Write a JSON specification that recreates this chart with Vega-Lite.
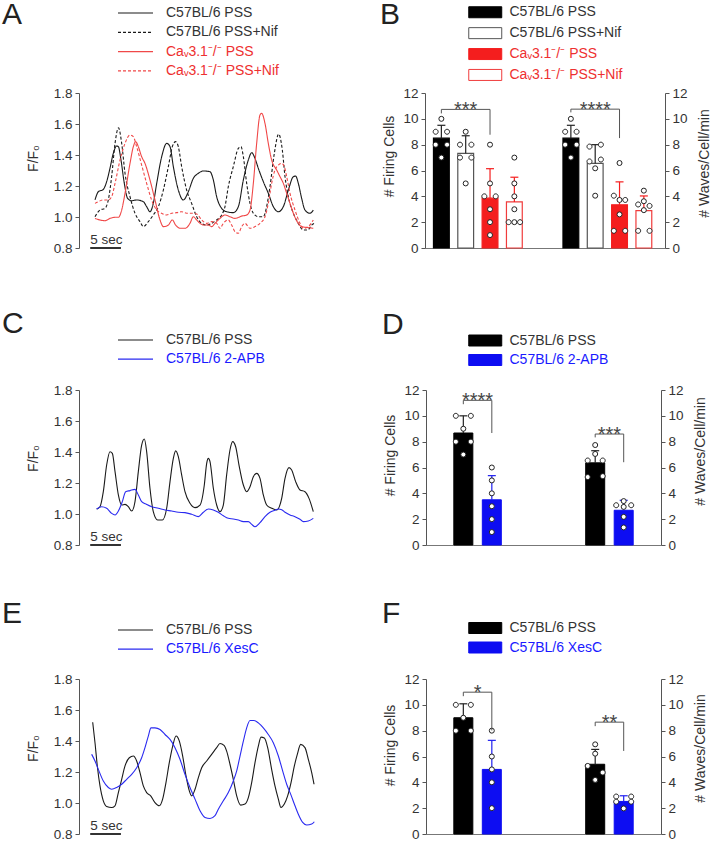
{
"$schema":"https://vega.github.io/schema/vega-lite/v6.json",
"background":"white",
"padding":{"left":2,"top":0,"right":0,"bottom":0},
"config":{
 "font":"Liberation Sans",
 "view":{"stroke":null},
 "axis":{"grid":false,"labelOverlap":false,"domainColor":"#555555","tickColor":"#555555","tickSize":4,"labelPadding":3,"labelFont":"Liberation Sans","labelFontSize":13.5,"labelColor":"#333333","titleFont":"Liberation Sans","titleFontSize":14,"titleFontWeight":"normal","titleColor":"#333333"},
 "legend":{"labelFont":"Liberation Sans","labelFontSize":14,"labelColor":"#333333","padding":0,"labelLimit":400,"symbolOpacity":1},
 "title":{"font":"Liberation Sans","fontSize":30,"fontWeight":"normal","color":"#222222","anchor":"start","frame":"group","offset":0}
},
"datasets":{
"trA":[
{"s":"C57BL/6 PSS","t":2.5,"v":1.11},{"s":"C57BL/6 PSS","t":3.02,"v":1.163},{"s":"C57BL/6 PSS","t":3.8,"v":1.178},{"s":"C57BL/6 PSS","t":4.32,"v":1.228},{"s":"C57BL/6 PSS","t":4.84,"v":1.314},{"s":"C57BL/6 PSS","t":5.36,"v":1.411},{"s":"C57BL/6 PSS","t":5.89,"v":1.458},{"s":"C57BL/6 PSS","t":6.15,"v":1.454},{"s":"C57BL/6 PSS","t":6.56,"v":1.368},{"s":"C57BL/6 PSS","t":7.08,"v":1.217},{"s":"C57BL/6 PSS","t":7.6,"v":1.12},{"s":"C57BL/6 PSS","t":8.23,"v":1.105},{"s":"C57BL/6 PSS","t":9.01,"v":1.11},{"s":"C57BL/6 PSS","t":10.05,"v":1.099},{"s":"C57BL/6 PSS","t":10.57,"v":1.067},{"s":"C57BL/6 PSS","t":11.09,"v":1.034},{"s":"C57BL/6 PSS","t":11.61,"v":1.088},{"s":"C57BL/6 PSS","t":12.14,"v":1.217},{"s":"C57BL/6 PSS","t":12.92,"v":1.389},{"s":"C57BL/6 PSS","t":13.7,"v":1.475},{"s":"C57BL/6 PSS","t":14.22,"v":1.454},{"s":"C57BL/6 PSS","t":14.74,"v":1.325},{"s":"C57BL/6 PSS","t":15.52,"v":1.174},{"s":"C57BL/6 PSS","t":16.3,"v":1.11},{"s":"C57BL/6 PSS","t":17.08,"v":1.163},{"s":"C57BL/6 PSS","t":17.86,"v":1.249},{"s":"C57BL/6 PSS","t":18.65,"v":1.282},{"s":"C57BL/6 PSS","t":19.43,"v":1.297},{"s":"C57BL/6 PSS","t":20.47,"v":1.292},{"s":"C57BL/6 PSS","t":20.99,"v":1.239},{"s":"C57BL/6 PSS","t":21.51,"v":1.131},{"s":"C57BL/6 PSS","t":22.29,"v":1.056},{"s":"C57BL/6 PSS","t":23.07,"v":1.034},{"s":"C57BL/6 PSS","t":24.11,"v":1.028},{"s":"C57BL/6 PSS","t":24.9,"v":1.067},{"s":"C57BL/6 PSS","t":25.68,"v":1.239},{"s":"C57BL/6 PSS","t":26.46,"v":1.368},{"s":"C57BL/6 PSS","t":26.98,"v":1.415},{"s":"C57BL/6 PSS","t":27.5,"v":1.378},{"s":"C57BL/6 PSS","t":28.02,"v":1.314},{"s":"C57BL/6 PSS","t":28.8,"v":1.228},{"s":"C57BL/6 PSS","t":29.58,"v":1.153},{"s":"C57BL/6 PSS","t":30.36,"v":1.067},{"s":"C57BL/6 PSS","t":31.15,"v":1.034},{"s":"C57BL/6 PSS","t":31.93,"v":1.067},{"s":"C57BL/6 PSS","t":32.71,"v":1.174},{"s":"C57BL/6 PSS","t":33.49,"v":1.26},{"s":"C57BL/6 PSS","t":33.85,"v":1.264},{"s":"C57BL/6 PSS","t":34.27,"v":1.217},{"s":"C57BL/6 PSS","t":34.79,"v":1.12},{"s":"C57BL/6 PSS","t":35.31,"v":1.045},{"s":"C57BL/6 PSS","t":36.09,"v":1.024},{"s":"C57BL/6 PSS","t":36.61,"v":1.045},
{"s":"C57BL/6 PSS+Nif","t":2.5,"v":1.002},{"s":"C57BL/6 PSS+Nif","t":3.28,"v":1.045},{"s":"C57BL/6 PSS+Nif","t":4.06,"v":1.056},{"s":"C57BL/6 PSS+Nif","t":4.58,"v":1.11},{"s":"C57BL/6 PSS+Nif","t":5.1,"v":1.26},{"s":"C57BL/6 PSS+Nif","t":5.63,"v":1.475},{"s":"C57BL/6 PSS+Nif","t":6.17,"v":1.575},{"s":"C57BL/6 PSS+Nif","t":6.67,"v":1.475},{"s":"C57BL/6 PSS+Nif","t":7.19,"v":1.282},{"s":"C57BL/6 PSS+Nif","t":7.97,"v":1.131},{"s":"C57BL/6 PSS+Nif","t":8.75,"v":1.024},{"s":"C57BL/6 PSS+Nif","t":9.53,"v":0.97},{"s":"C57BL/6 PSS+Nif","t":10.05,"v":0.938},{"s":"C57BL/6 PSS+Nif","t":10.83,"v":0.97},{"s":"C57BL/6 PSS+Nif","t":11.61,"v":1.013},{"s":"C57BL/6 PSS+Nif","t":12.4,"v":1.067},{"s":"C57BL/6 PSS+Nif","t":13.18,"v":1.174},{"s":"C57BL/6 PSS+Nif","t":13.96,"v":1.325},{"s":"C57BL/6 PSS+Nif","t":14.58,"v":1.454},{"s":"C57BL/6 PSS+Nif","t":15.1,"v":1.486},{"s":"C57BL/6 PSS+Nif","t":15.52,"v":1.454},{"s":"C57BL/6 PSS+Nif","t":16.04,"v":1.325},{"s":"C57BL/6 PSS+Nif","t":16.82,"v":1.174},{"s":"C57BL/6 PSS+Nif","t":17.6,"v":1.088},{"s":"C57BL/6 PSS+Nif","t":18.39,"v":1.002},{"s":"C57BL/6 PSS+Nif","t":19.17,"v":0.959},{"s":"C57BL/6 PSS+Nif","t":19.95,"v":0.948},{"s":"C57BL/6 PSS+Nif","t":20.73,"v":0.959},{"s":"C57BL/6 PSS+Nif","t":21.51,"v":0.981},{"s":"C57BL/6 PSS+Nif","t":22.29,"v":1.013},{"s":"C57BL/6 PSS+Nif","t":22.81,"v":1.067},{"s":"C57BL/6 PSS+Nif","t":23.33,"v":1.196},{"s":"C57BL/6 PSS+Nif","t":24.11,"v":1.325},{"s":"C57BL/6 PSS+Nif","t":24.9,"v":1.443},{"s":"C57BL/6 PSS+Nif","t":25.31,"v":1.454},{"s":"C57BL/6 PSS+Nif","t":25.68,"v":1.389},{"s":"C57BL/6 PSS+Nif","t":26.2,"v":1.217},{"s":"C57BL/6 PSS+Nif","t":26.72,"v":1.088},{"s":"C57BL/6 PSS+Nif","t":27.24,"v":1.024},{"s":"C57BL/6 PSS+Nif","t":28.02,"v":1.002},{"s":"C57BL/6 PSS+Nif","t":28.8,"v":1.002},{"s":"C57BL/6 PSS+Nif","t":29.32,"v":1.067},{"s":"C57BL/6 PSS+Nif","t":29.84,"v":1.196},{"s":"C57BL/6 PSS+Nif","t":30.52,"v":1.411},{"s":"C57BL/6 PSS+Nif","t":31.2,"v":1.535},{"s":"C57BL/6 PSS+Nif","t":31.77,"v":1.432},{"s":"C57BL/6 PSS+Nif","t":32.19,"v":1.26},{"s":"C57BL/6 PSS+Nif","t":32.71,"v":1.131},{"s":"C57BL/6 PSS+Nif","t":33.49,"v":1.024},{"s":"C57BL/6 PSS+Nif","t":34.27,"v":0.959},{"s":"C57BL/6 PSS+Nif","t":35.05,"v":0.916},{"s":"C57BL/6 PSS+Nif","t":35.73,"v":0.916},{"s":"C57BL/6 PSS+Nif","t":36.35,"v":0.948},{"s":"C57BL/6 PSS+Nif","t":36.77,"v":0.959},
{"s":"Caᵥ3.1⁻/⁻ PSS","t":2.5,"v":0.991},{"s":"Caᵥ3.1⁻/⁻ PSS","t":3.28,"v":0.981},{"s":"Caᵥ3.1⁻/⁻ PSS","t":4.06,"v":0.976},{"s":"Caᵥ3.1⁻/⁻ PSS","t":4.84,"v":0.991},{"s":"Caᵥ3.1⁻/⁻ PSS","t":5.63,"v":0.998},{"s":"Caᵥ3.1⁻/⁻ PSS","t":6.15,"v":0.998},{"s":"Caᵥ3.1⁻/⁻ PSS","t":6.67,"v":1.045},{"s":"Caᵥ3.1⁻/⁻ PSS","t":7.19,"v":1.153},{"s":"Caᵥ3.1⁻/⁻ PSS","t":7.97,"v":1.346},{"s":"Caᵥ3.1⁻/⁻ PSS","t":8.49,"v":1.454},{"s":"Caᵥ3.1⁻/⁻ PSS","t":8.85,"v":1.486},{"s":"Caᵥ3.1⁻/⁻ PSS","t":9.27,"v":1.454},{"s":"Caᵥ3.1⁻/⁻ PSS","t":9.79,"v":1.389},{"s":"Caᵥ3.1⁻/⁻ PSS","t":10.31,"v":1.346},{"s":"Caᵥ3.1⁻/⁻ PSS","t":11.09,"v":1.239},{"s":"Caᵥ3.1⁻/⁻ PSS","t":11.87,"v":1.11},{"s":"Caᵥ3.1⁻/⁻ PSS","t":12.66,"v":0.981},{"s":"Caᵥ3.1⁻/⁻ PSS","t":13.18,"v":0.938},{"s":"Caᵥ3.1⁻/⁻ PSS","t":13.96,"v":0.948},{"s":"Caᵥ3.1⁻/⁻ PSS","t":14.58,"v":0.981},{"s":"Caᵥ3.1⁻/⁻ PSS","t":15.1,"v":0.948},{"s":"Caᵥ3.1⁻/⁻ PSS","t":15.78,"v":0.927},{"s":"Caᵥ3.1⁻/⁻ PSS","t":16.56,"v":0.927},{"s":"Caᵥ3.1⁻/⁻ PSS","t":17.34,"v":0.959},{"s":"Caᵥ3.1⁻/⁻ PSS","t":17.86,"v":1.002},{"s":"Caᵥ3.1⁻/⁻ PSS","t":18.39,"v":0.981},{"s":"Caᵥ3.1⁻/⁻ PSS","t":18.91,"v":0.959},{"s":"Caᵥ3.1⁻/⁻ PSS","t":19.43,"v":0.948},{"s":"Caᵥ3.1⁻/⁻ PSS","t":20.21,"v":0.948},{"s":"Caᵥ3.1⁻/⁻ PSS","t":20.73,"v":0.938},{"s":"Caᵥ3.1⁻/⁻ PSS","t":21.25,"v":0.959},{"s":"Caᵥ3.1⁻/⁻ PSS","t":22.03,"v":0.991},{"s":"Caᵥ3.1⁻/⁻ PSS","t":22.81,"v":1.013},{"s":"Caᵥ3.1⁻/⁻ PSS","t":23.59,"v":1.002},{"s":"Caᵥ3.1⁻/⁻ PSS","t":24.38,"v":0.991},{"s":"Caᵥ3.1⁻/⁻ PSS","t":25.42,"v":1.006},{"s":"Caᵥ3.1⁻/⁻ PSS","t":26.2,"v":1.013},{"s":"Caᵥ3.1⁻/⁻ PSS","t":26.72,"v":1.045},{"s":"Caᵥ3.1⁻/⁻ PSS","t":27.24,"v":1.217},{"s":"Caᵥ3.1⁻/⁻ PSS","t":27.76,"v":1.475},{"s":"Caᵥ3.1⁻/⁻ PSS","t":28.28,"v":1.658},{"s":"Caᵥ3.1⁻/⁻ PSS","t":28.54,"v":1.669},{"s":"Caᵥ3.1⁻/⁻ PSS","t":29.06,"v":1.604},{"s":"Caᵥ3.1⁻/⁻ PSS","t":29.58,"v":1.475},{"s":"Caᵥ3.1⁻/⁻ PSS","t":30.1,"v":1.368},{"s":"Caᵥ3.1⁻/⁻ PSS","t":30.89,"v":1.303},{"s":"Caᵥ3.1⁻/⁻ PSS","t":31.41,"v":1.26},{"s":"Caᵥ3.1⁻/⁻ PSS","t":31.93,"v":1.217},{"s":"Caᵥ3.1⁻/⁻ PSS","t":32.45,"v":1.153},{"s":"Caᵥ3.1⁻/⁻ PSS","t":32.97,"v":1.088},{"s":"Caᵥ3.1⁻/⁻ PSS","t":33.49,"v":1.024},{"s":"Caᵥ3.1⁻/⁻ PSS","t":34.27,"v":0.959},{"s":"Caᵥ3.1⁻/⁻ PSS","t":34.79,"v":0.938},{"s":"Caᵥ3.1⁻/⁻ PSS","t":35.57,"v":0.933},{"s":"Caᵥ3.1⁻/⁻ PSS","t":36.61,"v":0.927},
{"s":"Caᵥ3.1⁻/⁻ PSS+Nif","t":2.5,"v":1.088},{"s":"Caᵥ3.1⁻/⁻ PSS+Nif","t":3.02,"v":1.099},{"s":"Caᵥ3.1⁻/⁻ PSS+Nif","t":3.8,"v":1.11},{"s":"Caᵥ3.1⁻/⁻ PSS+Nif","t":4.58,"v":1.11},{"s":"Caᵥ3.1⁻/⁻ PSS+Nif","t":5.1,"v":1.131},{"s":"Caᵥ3.1⁻/⁻ PSS+Nif","t":5.63,"v":1.217},{"s":"Caᵥ3.1⁻/⁻ PSS+Nif","t":6.41,"v":1.368},{"s":"Caᵥ3.1⁻/⁻ PSS+Nif","t":7.19,"v":1.475},{"s":"Caᵥ3.1⁻/⁻ PSS+Nif","t":7.97,"v":1.529},{"s":"Caᵥ3.1⁻/⁻ PSS+Nif","t":8.49,"v":1.518},{"s":"Caᵥ3.1⁻/⁻ PSS+Nif","t":9.01,"v":1.454},{"s":"Caᵥ3.1⁻/⁻ PSS+Nif","t":9.79,"v":1.335},{"s":"Caᵥ3.1⁻/⁻ PSS+Nif","t":10.57,"v":1.217},{"s":"Caᵥ3.1⁻/⁻ PSS+Nif","t":11.35,"v":1.11},{"s":"Caᵥ3.1⁻/⁻ PSS+Nif","t":12.14,"v":1.045},{"s":"Caᵥ3.1⁻/⁻ PSS+Nif","t":12.92,"v":1.024},{"s":"Caᵥ3.1⁻/⁻ PSS+Nif","t":13.7,"v":1.013},{"s":"Caᵥ3.1⁻/⁻ PSS+Nif","t":14.48,"v":1.024},{"s":"Caᵥ3.1⁻/⁻ PSS+Nif","t":15.26,"v":1.028},{"s":"Caᵥ3.1⁻/⁻ PSS+Nif","t":16.04,"v":1.034},{"s":"Caᵥ3.1⁻/⁻ PSS+Nif","t":16.82,"v":1.024},{"s":"Caᵥ3.1⁻/⁻ PSS+Nif","t":17.6,"v":1.024},{"s":"Caᵥ3.1⁻/⁻ PSS+Nif","t":18.39,"v":1.019},{"s":"Caᵥ3.1⁻/⁻ PSS+Nif","t":19.17,"v":0.981},{"s":"Caᵥ3.1⁻/⁻ PSS+Nif","t":19.95,"v":0.959},{"s":"Caᵥ3.1⁻/⁻ PSS+Nif","t":20.73,"v":0.97},{"s":"Caᵥ3.1⁻/⁻ PSS+Nif","t":21.51,"v":0.959},{"s":"Caᵥ3.1⁻/⁻ PSS+Nif","t":22.03,"v":0.927},{"s":"Caᵥ3.1⁻/⁻ PSS+Nif","t":22.55,"v":0.959},{"s":"Caᵥ3.1⁻/⁻ PSS+Nif","t":23.33,"v":0.981},{"s":"Caᵥ3.1⁻/⁻ PSS+Nif","t":23.85,"v":0.948},{"s":"Caᵥ3.1⁻/⁻ PSS+Nif","t":24.38,"v":0.905},{"s":"Caᵥ3.1⁻/⁻ PSS+Nif","t":24.9,"v":0.895},{"s":"Caᵥ3.1⁻/⁻ PSS+Nif","t":25.42,"v":0.938},{"s":"Caᵥ3.1⁻/⁻ PSS+Nif","t":25.94,"v":0.959},{"s":"Caᵥ3.1⁻/⁻ PSS+Nif","t":26.72,"v":0.927},{"s":"Caᵥ3.1⁻/⁻ PSS+Nif","t":27.5,"v":0.938},{"s":"Caᵥ3.1⁻/⁻ PSS+Nif","t":28.28,"v":0.959},{"s":"Caᵥ3.1⁻/⁻ PSS+Nif","t":29.06,"v":1.002},{"s":"Caᵥ3.1⁻/⁻ PSS+Nif","t":29.58,"v":1.088},{"s":"Caᵥ3.1⁻/⁻ PSS+Nif","t":30.1,"v":1.217},{"s":"Caᵥ3.1⁻/⁻ PSS+Nif","t":30.62,"v":1.303},{"s":"Caᵥ3.1⁻/⁻ PSS+Nif","t":31.15,"v":1.335},{"s":"Caᵥ3.1⁻/⁻ PSS+Nif","t":31.67,"v":1.346},{"s":"Caᵥ3.1⁻/⁻ PSS+Nif","t":32.08,"v":1.325},{"s":"Caᵥ3.1⁻/⁻ PSS+Nif","t":32.45,"v":1.26},{"s":"Caᵥ3.1⁻/⁻ PSS+Nif","t":32.97,"v":1.153},{"s":"Caᵥ3.1⁻/⁻ PSS+Nif","t":33.75,"v":1.045},{"s":"Caᵥ3.1⁻/⁻ PSS+Nif","t":34.53,"v":0.959},{"s":"Caᵥ3.1⁻/⁻ PSS+Nif","t":35.05,"v":0.927},{"s":"Caᵥ3.1⁻/⁻ PSS+Nif","t":35.83,"v":0.938},{"s":"Caᵥ3.1⁻/⁻ PSS+Nif","t":36.61,"v":0.981}
],
"trC":[
{"s":"C57BL/6 PSS","t":2.76,"v":1.032},{"s":"C57BL/6 PSS","t":3.28,"v":1.047},{"s":"C57BL/6 PSS","t":3.8,"v":1.144},{"s":"C57BL/6 PSS","t":4.32,"v":1.316},{"s":"C57BL/6 PSS","t":4.84,"v":1.402},{"s":"C57BL/6 PSS","t":5.21,"v":1.391},{"s":"C57BL/6 PSS","t":5.63,"v":1.273},{"s":"C57BL/6 PSS","t":6.15,"v":1.123},{"s":"C57BL/6 PSS","t":6.67,"v":1.058},{"s":"C57BL/6 PSS","t":7.19,"v":1.062},{"s":"C57BL/6 PSS","t":7.71,"v":1.047},{"s":"C57BL/6 PSS","t":8.23,"v":1.019},{"s":"C57BL/6 PSS","t":8.75,"v":1.08},{"s":"C57BL/6 PSS","t":9.27,"v":1.273},{"s":"C57BL/6 PSS","t":9.79,"v":1.445},{"s":"C57BL/6 PSS","t":10.21,"v":1.484},{"s":"C57BL/6 PSS","t":10.57,"v":1.402},{"s":"C57BL/6 PSS","t":11.09,"v":1.166},{"s":"C57BL/6 PSS","t":11.61,"v":1.015},{"s":"C57BL/6 PSS","t":12.29,"v":0.961},{"s":"C57BL/6 PSS","t":13.02,"v":0.961},{"s":"C57BL/6 PSS","t":13.7,"v":1.037},{"s":"C57BL/6 PSS","t":14.22,"v":1.209},{"s":"C57BL/6 PSS","t":14.74,"v":1.359},{"s":"C57BL/6 PSS","t":15.1,"v":1.407},{"s":"C57BL/6 PSS","t":15.52,"v":1.37},{"s":"C57BL/6 PSS","t":16.04,"v":1.252},{"s":"C57BL/6 PSS","t":16.56,"v":1.144},{"s":"C57BL/6 PSS","t":17.34,"v":1.069},{"s":"C57BL/6 PSS","t":18.12,"v":1.041},{"s":"C57BL/6 PSS","t":18.91,"v":1.058},{"s":"C57BL/6 PSS","t":19.58,"v":1.187},{"s":"C57BL/6 PSS","t":19.95,"v":1.327},{"s":"C57BL/6 PSS","t":20.21,"v":1.359},{"s":"C57BL/6 PSS","t":20.47,"v":1.338},{"s":"C57BL/6 PSS","t":20.99,"v":1.166},{"s":"C57BL/6 PSS","t":21.51,"v":1.058},{"s":"C57BL/6 PSS","t":22.03,"v":1.015},{"s":"C57BL/6 PSS","t":22.55,"v":1.058},{"s":"C57BL/6 PSS","t":23.07,"v":1.252},{"s":"C57BL/6 PSS","t":23.59,"v":1.413},{"s":"C57BL/6 PSS","t":24.01,"v":1.467},{"s":"C57BL/6 PSS","t":24.48,"v":1.434},{"s":"C57BL/6 PSS","t":25.0,"v":1.316},{"s":"C57BL/6 PSS","t":25.68,"v":1.187},{"s":"C57BL/6 PSS","t":26.2,"v":1.144},{"s":"C57BL/6 PSS","t":26.72,"v":1.176},{"s":"C57BL/6 PSS","t":27.24,"v":1.241},{"s":"C57BL/6 PSS","t":27.76,"v":1.262},{"s":"C57BL/6 PSS","t":28.28,"v":1.23},{"s":"C57BL/6 PSS","t":28.8,"v":1.123},{"s":"C57BL/6 PSS","t":29.32,"v":1.058},{"s":"C57BL/6 PSS","t":30.1,"v":1.037},{"s":"C57BL/6 PSS","t":30.89,"v":1.026},{"s":"C57BL/6 PSS","t":31.67,"v":1.101},{"s":"C57BL/6 PSS","t":32.19,"v":1.23},{"s":"C57BL/6 PSS","t":32.81,"v":1.299},{"s":"C57BL/6 PSS","t":33.23,"v":1.284},{"s":"C57BL/6 PSS","t":33.85,"v":1.209},{"s":"C57BL/6 PSS","t":34.53,"v":1.155},{"s":"C57BL/6 PSS","t":35.31,"v":1.144},{"s":"C57BL/6 PSS","t":35.94,"v":1.101},{"s":"C57BL/6 PSS","t":36.61,"v":1.015},
{"s":"C57BL/6 2-APB","t":2.76,"v":1.032},{"s":"C57BL/6 2-APB","t":3.54,"v":1.047},{"s":"C57BL/6 2-APB","t":4.32,"v":1.037},{"s":"C57BL/6 2-APB","t":5.1,"v":1.004},{"s":"C57BL/6 2-APB","t":5.63,"v":0.994},{"s":"C57BL/6 2-APB","t":6.15,"v":1.019},{"s":"C57BL/6 2-APB","t":6.77,"v":1.08},{"s":"C57BL/6 2-APB","t":7.29,"v":1.144},{"s":"C57BL/6 2-APB","t":7.97,"v":1.151},{"s":"C57BL/6 2-APB","t":8.75,"v":1.159},{"s":"C57BL/6 2-APB","t":9.27,"v":1.123},{"s":"C57BL/6 2-APB","t":9.79,"v":1.08},{"s":"C57BL/6 2-APB","t":10.57,"v":1.062},{"s":"C57BL/6 2-APB","t":11.35,"v":1.047},{"s":"C57BL/6 2-APB","t":12.4,"v":1.037},{"s":"C57BL/6 2-APB","t":13.44,"v":1.026},{"s":"C57BL/6 2-APB","t":14.48,"v":1.019},{"s":"C57BL/6 2-APB","t":15.52,"v":1.011},{"s":"C57BL/6 2-APB","t":16.56,"v":1.009},{"s":"C57BL/6 2-APB","t":17.6,"v":0.998},{"s":"C57BL/6 2-APB","t":18.65,"v":0.983},{"s":"C57BL/6 2-APB","t":19.43,"v":1.011},{"s":"C57BL/6 2-APB","t":20.21,"v":1.032},{"s":"C57BL/6 2-APB","t":20.99,"v":1.026},{"s":"C57BL/6 2-APB","t":21.77,"v":1.011},{"s":"C57BL/6 2-APB","t":22.55,"v":0.989},{"s":"C57BL/6 2-APB","t":23.33,"v":0.972},{"s":"C57BL/6 2-APB","t":24.11,"v":0.968},{"s":"C57BL/6 2-APB","t":24.9,"v":0.961},{"s":"C57BL/6 2-APB","t":25.68,"v":0.951},{"s":"C57BL/6 2-APB","t":26.46,"v":0.951},{"s":"C57BL/6 2-APB","t":26.98,"v":0.933},{"s":"C57BL/6 2-APB","t":27.5,"v":0.918},{"s":"C57BL/6 2-APB","t":28.28,"v":0.944},{"s":"C57BL/6 2-APB","t":29.06,"v":0.983},{"s":"C57BL/6 2-APB","t":29.84,"v":1.011},{"s":"C57BL/6 2-APB","t":30.62,"v":1.024},{"s":"C57BL/6 2-APB","t":31.15,"v":1.032},{"s":"C57BL/6 2-APB","t":31.67,"v":1.028},{"s":"C57BL/6 2-APB","t":32.19,"v":1.011},{"s":"C57BL/6 2-APB","t":32.97,"v":0.994},{"s":"C57BL/6 2-APB","t":33.75,"v":0.983},{"s":"C57BL/6 2-APB","t":34.53,"v":0.966},{"s":"C57BL/6 2-APB","t":35.05,"v":0.951},{"s":"C57BL/6 2-APB","t":35.83,"v":0.955},{"s":"C57BL/6 2-APB","t":36.61,"v":0.972}
],
"trE":[
{"s":"C57BL/6 PSS","t":2.14,"v":1.521},{"s":"C57BL/6 PSS","t":2.5,"v":1.389},{"s":"C57BL/6 PSS","t":2.86,"v":1.239},{"s":"C57BL/6 PSS","t":3.28,"v":1.11},{"s":"C57BL/6 PSS","t":3.8,"v":1.014},{"s":"C57BL/6 PSS","t":4.32,"v":0.978},{"s":"C57BL/6 PSS","t":5.1,"v":0.971},{"s":"C57BL/6 PSS","t":5.62,"v":0.982},{"s":"C57BL/6 PSS","t":6.15,"v":1.067},{"s":"C57BL/6 PSS","t":6.67,"v":1.153},{"s":"C57BL/6 PSS","t":7.19,"v":1.239},{"s":"C57BL/6 PSS","t":7.86,"v":1.292},{"s":"C57BL/6 PSS","t":8.49,"v":1.303},{"s":"C57BL/6 PSS","t":9.01,"v":1.271},{"s":"C57BL/6 PSS","t":9.53,"v":1.196},{"s":"C57BL/6 PSS","t":10.05,"v":1.11},{"s":"C57BL/6 PSS","t":10.57,"v":1.067},{"s":"C57BL/6 PSS","t":11.2,"v":1.046},{"s":"C57BL/6 PSS","t":11.87,"v":1.003},{"s":"C57BL/6 PSS","t":12.55,"v":0.982},{"s":"C57BL/6 PSS","t":13.07,"v":1.025},{"s":"C57BL/6 PSS","t":13.59,"v":1.132},{"s":"C57BL/6 PSS","t":14.11,"v":1.26},{"s":"C57BL/6 PSS","t":14.64,"v":1.367},{"s":"C57BL/6 PSS","t":15.16,"v":1.432},{"s":"C57BL/6 PSS","t":15.68,"v":1.399},{"s":"C57BL/6 PSS","t":16.2,"v":1.303},{"s":"C57BL/6 PSS","t":16.72,"v":1.175},{"s":"C57BL/6 PSS","t":17.24,"v":1.078},{"s":"C57BL/6 PSS","t":17.6,"v":1.046},{"s":"C57BL/6 PSS","t":18.13,"v":1.089},{"s":"C57BL/6 PSS","t":18.65,"v":1.164},{"s":"C57BL/6 PSS","t":19.17,"v":1.228},{"s":"C57BL/6 PSS","t":19.95,"v":1.271},{"s":"C57BL/6 PSS","t":20.73,"v":1.314},{"s":"C57BL/6 PSS","t":21.51,"v":1.357},{"s":"C57BL/6 PSS","t":22.03,"v":1.384},{"s":"C57BL/6 PSS","t":22.66,"v":1.372},{"s":"C57BL/6 PSS","t":23.07,"v":1.335},{"s":"C57BL/6 PSS","t":23.59,"v":1.25},{"s":"C57BL/6 PSS","t":24.11,"v":1.153},{"s":"C57BL/6 PSS","t":24.64,"v":1.046},{"s":"C57BL/6 PSS","t":25.26,"v":0.986},{"s":"C57BL/6 PSS","t":25.94,"v":0.993},{"s":"C57BL/6 PSS","t":26.46,"v":1.035},{"s":"C57BL/6 PSS","t":26.98,"v":1.132},{"s":"C57BL/6 PSS","t":27.5,"v":1.26},{"s":"C57BL/6 PSS","t":28.02,"v":1.367},{"s":"C57BL/6 PSS","t":28.44,"v":1.425},{"s":"C57BL/6 PSS","t":28.96,"v":1.419},{"s":"C57BL/6 PSS","t":29.48,"v":1.357},{"s":"C57BL/6 PSS","t":30.1,"v":1.217},{"s":"C57BL/6 PSS","t":30.62,"v":1.11},{"s":"C57BL/6 PSS","t":31.15,"v":1.025},{"s":"C57BL/6 PSS","t":31.56,"v":0.971},{"s":"C57BL/6 PSS","t":32.08,"v":0.993},{"s":"C57BL/6 PSS","t":32.6,"v":1.046},{"s":"C57BL/6 PSS","t":33.13,"v":1.132},{"s":"C57BL/6 PSS","t":33.65,"v":1.239},{"s":"C57BL/6 PSS","t":34.11,"v":1.314},{"s":"C57BL/6 PSS","t":34.64,"v":1.378},{"s":"C57BL/6 PSS","t":35.31,"v":1.357},{"s":"C57BL/6 PSS","t":35.83,"v":1.282},{"s":"C57BL/6 PSS","t":36.36,"v":1.196},{"s":"C57BL/6 PSS","t":36.72,"v":1.121},
{"s":"C57BL/6 XesC","t":1.98,"v":1.314},{"s":"C57BL/6 XesC","t":2.5,"v":1.271},{"s":"C57BL/6 XesC","t":3.02,"v":1.217},{"s":"C57BL/6 XesC","t":3.8,"v":1.142},{"s":"C57BL/6 XesC","t":4.58,"v":1.1},{"s":"C57BL/6 XesC","t":5.1,"v":1.089},{"s":"C57BL/6 XesC","t":5.89,"v":1.1},{"s":"C57BL/6 XesC","t":6.67,"v":1.121},{"s":"C57BL/6 XesC","t":7.45,"v":1.153},{"s":"C57BL/6 XesC","t":8.23,"v":1.185},{"s":"C57BL/6 XesC","t":9.01,"v":1.228},{"s":"C57BL/6 XesC","t":9.79,"v":1.292},{"s":"C57BL/6 XesC","t":10.31,"v":1.357},{"s":"C57BL/6 XesC","t":10.83,"v":1.432},{"s":"C57BL/6 XesC","t":11.25,"v":1.485},{"s":"C57BL/6 XesC","t":11.87,"v":1.485},{"s":"C57BL/6 XesC","t":12.66,"v":1.474},{"s":"C57BL/6 XesC","t":13.44,"v":1.442},{"s":"C57BL/6 XesC","t":14.22,"v":1.41},{"s":"C57BL/6 XesC","t":15.0,"v":1.357},{"s":"C57BL/6 XesC","t":15.78,"v":1.282},{"s":"C57BL/6 XesC","t":16.56,"v":1.185},{"s":"C57BL/6 XesC","t":17.34,"v":1.1},{"s":"C57BL/6 XesC","t":18.13,"v":1.025},{"s":"C57BL/6 XesC","t":18.91,"v":0.95},{"s":"C57BL/6 XesC","t":19.69,"v":0.907},{"s":"C57BL/6 XesC","t":20.47,"v":0.9},{"s":"C57BL/6 XesC","t":21.25,"v":0.918},{"s":"C57BL/6 XesC","t":21.77,"v":0.96},{"s":"C57BL/6 XesC","t":22.55,"v":1.014},{"s":"C57BL/6 XesC","t":23.33,"v":1.067},{"s":"C57BL/6 XesC","t":24.11,"v":1.142},{"s":"C57BL/6 XesC","t":24.64,"v":1.207},{"s":"C57BL/6 XesC","t":25.16,"v":1.303},{"s":"C57BL/6 XesC","t":25.68,"v":1.399},{"s":"C57BL/6 XesC","t":26.2,"v":1.485},{"s":"C57BL/6 XesC","t":26.72,"v":1.532},{"s":"C57BL/6 XesC","t":27.34,"v":1.532},{"s":"C57BL/6 XesC","t":28.02,"v":1.517},{"s":"C57BL/6 XesC","t":28.8,"v":1.485},{"s":"C57BL/6 XesC","t":29.58,"v":1.442},{"s":"C57BL/6 XesC","t":30.36,"v":1.389},{"s":"C57BL/6 XesC","t":31.15,"v":1.303},{"s":"C57BL/6 XesC","t":31.82,"v":1.207},{"s":"C57BL/6 XesC","t":32.45,"v":1.121},{"s":"C57BL/6 XesC","t":33.07,"v":1.057},{"s":"C57BL/6 XesC","t":33.75,"v":0.982},{"s":"C57BL/6 XesC","t":34.27,"v":0.928},{"s":"C57BL/6 XesC","t":34.95,"v":0.875},{"s":"C57BL/6 XesC","t":35.57,"v":0.858},{"s":"C57BL/6 XesC","t":36.36,"v":0.864},{"s":"C57BL/6 XesC","t":36.77,"v":0.879}
],
"sb":[{"t1":1.75,"t2":6.55,"v":0.8,"label":"5 sec"}],
"barB":[
{"m":"Firing","c":"C57BL/6 PSS","mean":8.5,"upper":9.5},{"m":"Firing","c":"C57BL/6 PSS+Nif","mean":7.33,"upper":8.69},{"m":"Firing","c":"Caᵥ3.1⁻/⁻ PSS","mean":3.86,"upper":6.14},{"m":"Firing","c":"Caᵥ3.1⁻/⁻ PSS+Nif","mean":3.57,"upper":5.48},
{"m":"Waves","c":"C57BL/6 PSS","mean":8.5,"upper":9.5},{"m":"Waves","c":"C57BL/6 PSS+Nif","mean":6.55,"upper":8.0},{"m":"Waves","c":"Caᵥ3.1⁻/⁻ PSS","mean":3.35,"upper":5.12},{"m":"Waves","c":"Caᵥ3.1⁻/⁻ PSS+Nif","mean":2.9,"upper":4.03}
],
"dotB":[
{"m":"Firing","c":"C57BL/6 PSS","val":10,"col":"C"},{"m":"Firing","c":"C57BL/6 PSS","val":9,"col":"L"},{"m":"Firing","c":"C57BL/6 PSS","val":9,"col":"R"},{"m":"Firing","c":"C57BL/6 PSS","val":8,"col":"L"},{"m":"Firing","c":"C57BL/6 PSS","val":8,"col":"R"},{"m":"Firing","c":"C57BL/6 PSS","val":7,"col":"C"},
{"m":"Firing","c":"C57BL/6 PSS+Nif","val":9,"col":"C"},{"m":"Firing","c":"C57BL/6 PSS+Nif","val":8,"col":"L"},{"m":"Firing","c":"C57BL/6 PSS+Nif","val":8,"col":"R"},{"m":"Firing","c":"C57BL/6 PSS+Nif","val":7,"col":"L"},{"m":"Firing","c":"C57BL/6 PSS+Nif","val":7,"col":"R"},{"m":"Firing","c":"C57BL/6 PSS+Nif","val":5,"col":"C"},
{"m":"Firing","c":"Caᵥ3.1⁻/⁻ PSS","val":8,"col":"C"},{"m":"Firing","c":"Caᵥ3.1⁻/⁻ PSS","val":5,"col":"C"},{"m":"Firing","c":"Caᵥ3.1⁻/⁻ PSS","val":4,"col":"L"},{"m":"Firing","c":"Caᵥ3.1⁻/⁻ PSS","val":4,"col":"R"},{"m":"Firing","c":"Caᵥ3.1⁻/⁻ PSS","val":3,"col":"C"},{"m":"Firing","c":"Caᵥ3.1⁻/⁻ PSS","val":2,"col":"C"},{"m":"Firing","c":"Caᵥ3.1⁻/⁻ PSS","val":1,"col":"C"},
{"m":"Firing","c":"Caᵥ3.1⁻/⁻ PSS+Nif","val":7,"col":"C"},{"m":"Firing","c":"Caᵥ3.1⁻/⁻ PSS+Nif","val":5,"col":"C"},{"m":"Firing","c":"Caᵥ3.1⁻/⁻ PSS+Nif","val":4,"col":"C"},{"m":"Firing","c":"Caᵥ3.1⁻/⁻ PSS+Nif","val":3,"col":"C"},{"m":"Firing","c":"Caᵥ3.1⁻/⁻ PSS+Nif","val":2,"col":"L"},{"m":"Firing","c":"Caᵥ3.1⁻/⁻ PSS+Nif","val":2,"col":"C"},{"m":"Firing","c":"Caᵥ3.1⁻/⁻ PSS+Nif","val":2,"col":"R"},
{"m":"Waves","c":"C57BL/6 PSS","val":10,"col":"C"},{"m":"Waves","c":"C57BL/6 PSS","val":9,"col":"L"},{"m":"Waves","c":"C57BL/6 PSS","val":9,"col":"R"},{"m":"Waves","c":"C57BL/6 PSS","val":8,"col":"L"},{"m":"Waves","c":"C57BL/6 PSS","val":8,"col":"R"},{"m":"Waves","c":"C57BL/6 PSS","val":7,"col":"C"},
{"m":"Waves","c":"C57BL/6 PSS+Nif","val":7.85,"col":"L"},{"m":"Waves","c":"C57BL/6 PSS+Nif","val":8.0,"col":"R"},{"m":"Waves","c":"C57BL/6 PSS+Nif","val":6.7,"col":"L"},{"m":"Waves","c":"C57BL/6 PSS+Nif","val":6.85,"col":"R"},{"m":"Waves","c":"C57BL/6 PSS+Nif","val":6.17,"col":"C"},{"m":"Waves","c":"C57BL/6 PSS+Nif","val":4.05,"col":"C"},
{"m":"Waves","c":"Caᵥ3.1⁻/⁻ PSS","val":6.58,"col":"C"},{"m":"Waves","c":"Caᵥ3.1⁻/⁻ PSS","val":4.05,"col":"L"},{"m":"Waves","c":"Caᵥ3.1⁻/⁻ PSS","val":3.72,"col":"C"},{"m":"Waves","c":"Caᵥ3.1⁻/⁻ PSS","val":3.72,"col":"R"},{"m":"Waves","c":"Caᵥ3.1⁻/⁻ PSS","val":2.6,"col":"C"},{"m":"Waves","c":"Caᵥ3.1⁻/⁻ PSS","val":1.33,"col":"L"},{"m":"Waves","c":"Caᵥ3.1⁻/⁻ PSS","val":1.33,"col":"R"},
{"m":"Waves","c":"Caᵥ3.1⁻/⁻ PSS+Nif","val":4.44,"col":"C"},{"m":"Waves","c":"Caᵥ3.1⁻/⁻ PSS+Nif","val":3.62,"col":"C"},{"m":"Waves","c":"Caᵥ3.1⁻/⁻ PSS+Nif","val":3.37,"col":"L"},{"m":"Waves","c":"Caᵥ3.1⁻/⁻ PSS+Nif","val":3.26,"col":"R"},{"m":"Waves","c":"Caᵥ3.1⁻/⁻ PSS+Nif","val":2.93,"col":"C"},{"m":"Waves","c":"Caᵥ3.1⁻/⁻ PSS+Nif","val":1.33,"col":"L"},{"m":"Waves","c":"Caᵥ3.1⁻/⁻ PSS+Nif","val":1.33,"col":"R"}
],
"brkB":[
{"id":"1","m":"Firing","c":"C57BL/6 PSS","y":10.42,"k":0},{"id":"1","m":"Firing","c":"C57BL/6 PSS","y":10.73,"k":1},{"id":"1","m":"Firing","c":"Caᵥ3.1⁻/⁻ PSS","y":10.73,"k":2},{"id":"1","m":"Firing","c":"Caᵥ3.1⁻/⁻ PSS","y":8.77,"k":3},
{"id":"2","m":"Waves","c":"C57BL/6 PSS","y":10.5,"k":0},{"id":"2","m":"Waves","c":"C57BL/6 PSS","y":10.75,"k":1},{"id":"2","m":"Waves","c":"Caᵥ3.1⁻/⁻ PSS","y":10.75,"k":2},{"id":"2","m":"Waves","c":"Caᵥ3.1⁻/⁻ PSS","y":8.51,"k":3}
],
"starB":[{"m":"Firing","c":"C57BL/6 PSS+Nif","y":10.73,"stars":"***"},{"m":"Waves","c":"C57BL/6 PSS+Nif","y":10.75,"stars":"****"}],
"barD":[
{"m":"Firing","c":"C57BL/6 PSS","mean":8.67,"upper":10.0},{"m":"Firing","c":"C57BL/6 2-APB","mean":3.5,"upper":5.37},{"m":"Waves","c":"C57BL/6 PSS","mean":6.36,"upper":7.3},{"m":"Waves","c":"C57BL/6 2-APB","mean":2.69,"upper":3.46}
],
"dotD":[
{"m":"Firing","c":"C57BL/6 PSS","val":10,"col":"L"},{"m":"Firing","c":"C57BL/6 PSS","val":10,"col":"R"},{"m":"Firing","c":"C57BL/6 PSS","val":9,"col":"C"},{"m":"Firing","c":"C57BL/6 PSS","val":8,"col":"L"},{"m":"Firing","c":"C57BL/6 PSS","val":8,"col":"R"},{"m":"Firing","c":"C57BL/6 PSS","val":7,"col":"C"},
{"m":"Firing","c":"C57BL/6 2-APB","val":6,"col":"C"},{"m":"Firing","c":"C57BL/6 2-APB","val":5,"col":"C"},{"m":"Firing","c":"C57BL/6 2-APB","val":4,"col":"C"},{"m":"Firing","c":"C57BL/6 2-APB","val":3,"col":"C"},{"m":"Firing","c":"C57BL/6 2-APB","val":2,"col":"C"},{"m":"Firing","c":"C57BL/6 2-APB","val":1,"col":"C"},
{"m":"Waves","c":"C57BL/6 PSS","val":7.74,"col":"C"},{"m":"Waves","c":"C57BL/6 PSS","val":7.05,"col":"C"},{"m":"Waves","c":"C57BL/6 PSS","val":6.54,"col":"L"},{"m":"Waves","c":"C57BL/6 PSS","val":6.54,"col":"R"},{"m":"Waves","c":"C57BL/6 PSS","val":5.26,"col":"L"},{"m":"Waves","c":"C57BL/6 PSS","val":5.33,"col":"R"},
{"m":"Waves","c":"C57BL/6 2-APB","val":3.08,"col":"L"},{"m":"Waves","c":"C57BL/6 2-APB","val":3.4,"col":"C"},{"m":"Waves","c":"C57BL/6 2-APB","val":3.08,"col":"R"},{"m":"Waves","c":"C57BL/6 2-APB","val":2.95,"col":"C"},{"m":"Waves","c":"C57BL/6 2-APB","val":2.18,"col":"C"},{"m":"Waves","c":"C57BL/6 2-APB","val":1.36,"col":"C"}
],
"brkD":[
{"id":"1","m":"Firing","c":"C57BL/6 PSS","y":10.9,"k":0},{"id":"1","m":"Firing","c":"C57BL/6 PSS","y":11.2,"k":1},{"id":"1","m":"Firing","c":"C57BL/6 2-APB","y":11.2,"k":2},{"id":"1","m":"Firing","c":"C57BL/6 2-APB","y":8.67,"k":3},
{"id":"2","m":"Waves","c":"C57BL/6 PSS","y":8.33,"k":0},{"id":"2","m":"Waves","c":"C57BL/6 PSS","y":8.59,"k":1},{"id":"2","m":"Waves","c":"C57BL/6 2-APB","y":8.59,"k":2},{"id":"2","m":"Waves","c":"C57BL/6 2-APB","y":6.41,"k":3}
],
"starD":[{"m":"Firing","c":"C57BL/6 PSS","y":11.2,"stars":"****"},{"m":"Waves","c":"C57BL/6 PSS","y":8.59,"stars":"***"}],
"barF":[
{"m":"Firing","c":"C57BL/6 PSS","mean":9.0,"upper":10.08},{"m":"Firing","c":"C57BL/6 XesC","mean":5.0,"upper":7.25},{"m":"Waves","c":"C57BL/6 PSS","mean":5.4,"upper":6.55},{"m":"Waves","c":"C57BL/6 XesC","mean":2.52,"upper":2.96}
],
"dotF":[
{"m":"Firing","c":"C57BL/6 PSS","val":10,"col":"L"},{"m":"Firing","c":"C57BL/6 PSS","val":10,"col":"R"},{"m":"Firing","c":"C57BL/6 PSS","val":9,"col":"C"},{"m":"Firing","c":"C57BL/6 PSS","val":8,"col":"L"},{"m":"Firing","c":"C57BL/6 PSS","val":8,"col":"R"},
{"m":"Firing","c":"C57BL/6 XesC","val":8,"col":"C"},{"m":"Firing","c":"C57BL/6 XesC","val":6,"col":"C"},{"m":"Firing","c":"C57BL/6 XesC","val":5,"col":"C"},{"m":"Firing","c":"C57BL/6 XesC","val":4,"col":"C"},{"m":"Firing","c":"C57BL/6 XesC","val":2,"col":"C"},
{"m":"Waves","c":"C57BL/6 PSS","val":6.94,"col":"C"},{"m":"Waves","c":"C57BL/6 PSS","val":6.22,"col":"C"},{"m":"Waves","c":"C57BL/6 PSS","val":5.27,"col":"L"},{"m":"Waves","c":"C57BL/6 PSS","val":4.76,"col":"R"},{"m":"Waves","c":"C57BL/6 PSS","val":4.19,"col":"C"},
{"m":"Waves","c":"C57BL/6 XesC","val":2.9,"col":"L"},{"m":"Waves","c":"C57BL/6 XesC","val":2.9,"col":"R"},{"m":"Waves","c":"C57BL/6 XesC","val":2.5,"col":"L"},{"m":"Waves","c":"C57BL/6 XesC","val":2.5,"col":"R"},{"m":"Waves","c":"C57BL/6 XesC","val":1.98,"col":"C"}
],
"brkF":[
{"id":"1","m":"Firing","c":"C57BL/6 PSS","y":10.67,"k":0},{"id":"1","m":"Firing","c":"C57BL/6 PSS","y":10.98,"k":1},{"id":"1","m":"Firing","c":"C57BL/6 XesC","y":10.98,"k":2},{"id":"1","m":"Firing","c":"C57BL/6 XesC","y":8.02,"k":3},
{"id":"2","m":"Waves","c":"C57BL/6 PSS","y":8.35,"k":0},{"id":"2","m":"Waves","c":"C57BL/6 PSS","y":8.66,"k":1},{"id":"2","m":"Waves","c":"C57BL/6 XesC","y":8.66,"k":2},{"id":"2","m":"Waves","c":"C57BL/6 XesC","y":6.43,"k":3}
],
"starF":[{"m":"Firing","c":"C57BL/6 PSS","y":10.98,"stars":"*"},{"m":"Waves","c":"C57BL/6 PSS","y":8.66,"stars":"**"}]
},
"spacing":297,
"bounds":"flush",
"resolve":{"scale":{"x":"independent","y":"independent","xOffset":"independent","color":"independent","strokeDash":"independent","fill":"independent","stroke":"independent","shape":"independent"},"legend":{"color":"independent","strokeDash":"independent","fill":"independent","stroke":"independent"}},
"vconcat":[
{"hconcat":[
 {"width":240,"height":155,"title":{"text":"A","dx":-77,"dy":29},
  "encoding":{"y":{"field":"v","type":"quantitative","scale":{"domain":[0.8,1.8],"nice":false,"zero":false},"axis":{"title":"F/F₀","values":[0.8,1.0,1.2,1.4,1.6,1.8],"format":".1f","labelOverlap":false,"titleY":65,"titlePadding":13}}},
  "layer":[
   {"data":{"name":"trA"},"mark":{"type":"line","strokeWidth":1.1,"interpolate":"monotone"},
    "encoding":{
     "x":{"field":"t","type":"quantitative","scale":{"domain":[0,37.5],"nice":false},"axis":null},
     "color":{"field":"s","type":"nominal","scale":{"domain":["C57BL/6 PSS","C57BL/6 PSS+Nif","Caᵥ3.1⁻/⁻ PSS","Caᵥ3.1⁻/⁻ PSS+Nif"],"range":["#1a1a1a","#1a1a1a","#f04848","#f04848"]},
      "legend":{"orient":"none","legendX":48.5,"legendY":-88,"title":null,"symbolType":"M-2.5,0H2.5","symbolSize":196,"symbolStrokeWidth":1.2,"labelOffset":22.5,"rowPadding":4.3,"encode":{"labels":{"update":{"fill":{"signal":"indexof(datum.value,'Ca')===0 ? '#ee3030' : '#333333'"}}}}}},
     "strokeDash":{"field":"s","type":"nominal","scale":{"domain":["C57BL/6 PSS","C57BL/6 PSS+Nif","Caᵥ3.1⁻/⁻ PSS","Caᵥ3.1⁻/⁻ PSS+Nif"],"range":[[1,0],[3,2],[1,0],[3,2]]},
      "legend":{"orient":"none","legendX":48.5,"legendY":-88,"title":null,"symbolType":"M-2.5,0H2.5","symbolSize":196,"symbolStrokeWidth":1.2,"labelOffset":22.5,"rowPadding":4.3,"encode":{"labels":{"update":{"fill":{"signal":"indexof(datum.value,'Ca')===0 ? '#ee3030' : '#333333'"}}}}}}
    }},
   {"data":{"name":"sb"},"mark":{"type":"rule","strokeWidth":2,"color":"#333333"},"encoding":{"x":{"field":"t1","type":"quantitative"},"x2":{"field":"t2"}}},
   {"data":{"name":"sb"},"mark":{"type":"text","align":"left","baseline":"alphabetic","dy":-4,"fontSize":13.5,"color":"#333333"},"encoding":{"x":{"field":"t1","type":"quantitative"},"text":{"field":"label"}}}
  ]},
 {"width":240,"height":155,"title":{"text":"B","dx":-45,"dy":30.75},
  "encoding":{
   "x":{"field":"m","type":"nominal","scale":{"domain":["Firing","Waves"],"paddingInner":0.3143,"paddingOuter":0.0838,"align":0.39},"axis":{"labels":false,"ticks":false,"title":null,"domainColor":"#777777"}},
   "xOffset":{"field":"c","type":"nominal","scale":{"domain":["C57BL/6 PSS","C57BL/6 PSS+Nif","Caᵥ3.1⁻/⁻ PSS","Caᵥ3.1⁻/⁻ PSS+Nif"],"range":[0,88.8],"paddingInner":0.35,"paddingOuter":0}}
  },
  "layer":[
   {"data":{"name":"barB"},"mark":{"type":"bar","strokeWidth":1.2},
    "encoding":{
     "y":{"field":"mean","type":"quantitative","scale":{"domain":[0,12],"nice":false},"axis":{"title":"# Firing Cells","values":[0,2,4,6,8,10,12],"titleY":63,"titlePadding":6}},
     "fill":{"field":"c","type":"nominal","scale":{"domain":["C57BL/6 PSS","C57BL/6 PSS+Nif","Caᵥ3.1⁻/⁻ PSS","Caᵥ3.1⁻/⁻ PSS+Nif"],"range":["#000000","#ffffff","#f41e1e","#ffffff"]},
      "legend":{"orient":"none","legendX":51.25,"legendY":-89.75,"title":null,"symbolType":"M-2,-0.667H2V0.667H-2Z","symbolSize":272,"symbolStrokeWidth":1,"labelOffset":15.25,"rowPadding":3.9,"encode":{"labels":{"update":{"fill":{"signal":"indexof(datum.value,'Ca')===0 ? '#ee3030' : '#333333'"}}}}}},
     "stroke":{"field":"c","type":"nominal","scale":{"domain":["C57BL/6 PSS","C57BL/6 PSS+Nif","Caᵥ3.1⁻/⁻ PSS","Caᵥ3.1⁻/⁻ PSS+Nif"],"range":["#000000","#555555","#f41e1e","#f03c3c"]},
      "legend":{"orient":"none","legendX":51.25,"legendY":-89.75,"title":null,"symbolType":"M-2,-0.667H2V0.667H-2Z","symbolSize":272,"symbolStrokeWidth":1,"labelOffset":15.25,"rowPadding":3.9,"encode":{"labels":{"update":{"fill":{"signal":"indexof(datum.value,'Ca')===0 ? '#ee3030' : '#333333'"}}}}}}
    }},
   {"data":{"name":"barB"},"mark":{"type":"rule","strokeWidth":1.2},
    "encoding":{"y":{"field":"mean","type":"quantitative","axis":{"orient":"right","title":"# Waves/Cell/min","values":[0,2,4,6,8,10,12],"titleAngle":270,"titleBaseline":"top","titleY":70,"titlePadding":10}},"y2":{"field":"upper"},
     "color":{"condition":{"test":"indexof(datum.c,'Ca')===0","value":"#f41e1e"},"value":"#222222"}}},
   {"data":{"name":"barB"},"mark":{"type":"tick","size":8,"thickness":1.2,"opacity":1},
    "encoding":{"y":{"field":"upper","type":"quantitative","axis":null},"color":{"condition":{"test":"indexof(datum.c,'Ca')===0","value":"#f41e1e"},"value":"#222222"}}},
   {"data":{"name":"dotB"},"mark":{"type":"point","filled":true,"fill":"#ffffff","stroke":"#222222","strokeWidth":1,"size":25,"opacity":1},
    "encoding":{"y":{"field":"val","type":"quantitative","axis":null},
     "shape":{"field":"col","type":"nominal","scale":{"domain":["L","C","R"],"range":["M-1.28,0A1,1,0,1,1,-3.28,0A1,1,0,1,1,-1.28,0Z","circle","M3.28,0A1,1,0,1,1,1.28,0A1,1,0,1,1,3.28,0Z"]},"legend":null}}},
   {"data":{"name":"brkB"},"mark":{"type":"line","strokeWidth":1,"color":"#555555"},
    "encoding":{"y":{"field":"y","type":"quantitative","axis":null},"detail":{"field":"id"},"order":{"field":"k"}}},
   {"data":{"name":"starB"},"mark":{"type":"text","fontSize":20,"color":"#444444","baseline":"alphabetic","dy":7},
    "encoding":{"y":{"field":"y","type":"quantitative","axis":null},"text":{"field":"stars"}}}
  ],
  "resolve":{"axis":{"y":"independent"}}}
 ],"spacing":106,"bounds":"flush",
 "resolve":{"scale":{"x":"independent","y":"independent","xOffset":"independent","color":"independent","strokeDash":"independent","fill":"independent","stroke":"independent","shape":"independent"},"legend":{"color":"independent","strokeDash":"independent","fill":"independent","stroke":"independent"}}},
{"vconcat":[
{"hconcat":[
 {"width":240,"height":155,"title":{"text":"C","dx":-77,"dy":11},
  "encoding":{"y":{"field":"v","type":"quantitative","scale":{"domain":[0.8,1.8],"nice":false,"zero":false},"axis":{"title":"F/F₀","values":[0.8,1.0,1.2,1.4,1.6,1.8],"format":".1f","labelOverlap":false,"titleY":68,"titlePadding":13}}},
  "layer":[
   {"data":{"name":"trC"},"mark":{"type":"line","strokeWidth":1.1,"interpolate":"monotone"},
    "encoding":{
     "x":{"field":"t","type":"quantitative","scale":{"domain":[0,37.5],"nice":false},"axis":null},
     "color":{"field":"s","type":"nominal","scale":{"domain":["C57BL/6 PSS","C57BL/6 2-APB"],"range":["#1a1a1a","#2a2af0"]},
      "legend":{"orient":"none","legendX":48.5,"legendY":-58,"title":null,"symbolType":"M-2.5,0H2.5","symbolSize":196,"symbolStrokeWidth":1.2,"labelOffset":22.5,"rowPadding":4.2,"encode":{"labels":{"update":{"fill":{"signal":"indexof(datum.value,'PSS')>=0 ? '#333333' : '#1a1aff'"}}}}}}
    }},
   {"data":{"name":"sb"},"mark":{"type":"rule","strokeWidth":2,"color":"#333333"},"encoding":{"x":{"field":"t1","type":"quantitative"},"x2":{"field":"t2"}}},
   {"data":{"name":"sb"},"mark":{"type":"text","align":"left","baseline":"alphabetic","dy":-4,"fontSize":13.5,"color":"#333333"},"encoding":{"x":{"field":"t1","type":"quantitative"},"text":{"field":"label"}}}
  ]},
 {"width":235,"height":155,"title":{"text":"D","dx":-44,"dy":12.5},
  "encoding":{
   "x":{"field":"m","type":"nominal","scale":{"domain":["Firing","Waves"],"paddingInner":0.64,"paddingOuter":0.211},"axis":{"labels":false,"ticks":false,"title":null,"domainColor":"#777777"}},
   "xOffset":{"field":"c","type":"nominal","scale":{"domain":["C57BL/6 PSS","C57BL/6 2-APB"],"range":[0,47.5],"paddingInner":0.333,"paddingOuter":0}}
  },
  "layer":[
   {"data":{"name":"barD"},"mark":{"type":"bar","strokeWidth":1},
    "encoding":{
     "y":{"field":"mean","type":"quantitative","scale":{"domain":[0,12],"nice":false},"axis":{"title":"# Firing Cells","values":[0,2,4,6,8,10,12],"titleY":65,"titlePadding":6}},
     "fill":{"field":"c","type":"nominal","scale":{"domain":["C57BL/6 PSS","C57BL/6 2-APB"],"range":["#000000","#0d0df2"]},
      "legend":{"orient":"none","legendX":50.25,"legendY":-58.5,"title":null,"symbolType":"M-2,-0.667H2V0.667H-2Z","symbolSize":272,"symbolStrokeWidth":1,"labelOffset":15.25,"rowPadding":2.5,"encode":{"labels":{"update":{"fill":{"signal":"indexof(datum.value,'PSS')>=0 ? '#333333' : '#1a1aff'"}}}}}},
     "stroke":{"field":"c","type":"nominal","scale":{"domain":["C57BL/6 PSS","C57BL/6 2-APB"],"range":["#000000","#0d0df2"]},
      "legend":{"orient":"none","legendX":50.25,"legendY":-58.5,"title":null,"symbolType":"M-2,-0.667H2V0.667H-2Z","symbolSize":272,"symbolStrokeWidth":1,"labelOffset":15.25,"rowPadding":2.5,"encode":{"labels":{"update":{"fill":{"signal":"indexof(datum.value,'PSS')>=0 ? '#333333' : '#1a1aff'"}}}}}}
    }},
   {"data":{"name":"barD"},"mark":{"type":"rule","strokeWidth":1.2},
    "encoding":{"y":{"field":"mean","type":"quantitative","axis":{"orient":"right","title":"# Waves/Cell/min","values":[0,2,4,6,8,10,12],"titleAngle":270,"titleBaseline":"top","titleY":61,"titlePadding":10}},"y2":{"field":"upper"},
     "color":{"condition":{"test":"indexof(datum.c,'PSS')<0","value":"#2020f0"},"value":"#222222"}}},
   {"data":{"name":"barD"},"mark":{"type":"tick","size":8,"thickness":1.2,"opacity":1},
    "encoding":{"y":{"field":"upper","type":"quantitative","axis":null},"color":{"condition":{"test":"indexof(datum.c,'PSS')<0","value":"#2020f0"},"value":"#222222"}}},
   {"data":{"name":"dotD"},"mark":{"type":"point","filled":true,"fill":"#ffffff","stroke":"#222222","strokeWidth":1,"size":25,"opacity":1},
    "encoding":{"y":{"field":"val","type":"quantitative","axis":null},
     "shape":{"field":"col","type":"nominal","scale":{"domain":["L","C","R"],"range":["M-2,0A1,1,0,1,1,-4,0A1,1,0,1,1,-2,0Z","circle","M4,0A1,1,0,1,1,2,0A1,1,0,1,1,4,0Z"]},"legend":null}}},
   {"data":{"name":"brkD"},"mark":{"type":"line","strokeWidth":1,"color":"#555555"},
    "encoding":{"y":{"field":"y","type":"quantitative","axis":null},"detail":{"field":"id"},"order":{"field":"k"}}},
   {"data":{"name":"starD"},"mark":{"type":"text","fontSize":20,"color":"#444444","baseline":"alphabetic","dy":7,"dx":14.25},
    "encoding":{"y":{"field":"y","type":"quantitative","axis":null},"text":{"field":"stars"}}}
  ],
  "resolve":{"axis":{"y":"independent"}}}
 ],"spacing":107,"bounds":"flush",
 "resolve":{"scale":{"x":"independent","y":"independent","xOffset":"independent","color":"independent","fill":"independent","stroke":"independent","shape":"independent"},"legend":{"color":"independent","fill":"independent","stroke":"independent"}}},
{"hconcat":[
 {"width":240,"height":155,"title":{"text":"E","dx":-77,"dy":11},
  "encoding":{"y":{"field":"v","type":"quantitative","scale":{"domain":[0.8,1.8],"nice":false,"zero":false},"axis":{"title":"F/F₀","values":[0.8,1.0,1.2,1.4,1.6,1.8],"format":".1f","labelOverlap":false,"titleY":69,"titlePadding":13}}},
  "layer":[
   {"data":{"name":"trE"},"mark":{"type":"line","strokeWidth":1.1,"interpolate":"monotone"},
    "encoding":{
     "x":{"field":"t","type":"quantitative","scale":{"domain":[0,37.5],"nice":false},"axis":null},
     "color":{"field":"s","type":"nominal","scale":{"domain":["C57BL/6 PSS","C57BL/6 XesC"],"range":["#1a1a1a","#2a2af0"]},
      "legend":{"orient":"none","legendX":48.5,"legendY":-57,"title":null,"symbolType":"M-2.5,0H2.5","symbolSize":196,"symbolStrokeWidth":1.2,"labelOffset":22.5,"rowPadding":4.2,"encode":{"labels":{"update":{"fill":{"signal":"indexof(datum.value,'PSS')>=0 ? '#333333' : '#1a1aff'"}}}}}}
    }},
   {"data":{"name":"sb"},"mark":{"type":"rule","strokeWidth":2,"color":"#333333"},"encoding":{"x":{"field":"t1","type":"quantitative"},"x2":{"field":"t2"}}},
   {"data":{"name":"sb"},"mark":{"type":"text","align":"left","baseline":"alphabetic","dy":-4,"fontSize":13.5,"color":"#333333"},"encoding":{"x":{"field":"t1","type":"quantitative"},"text":{"field":"label"}}}
  ]},
 {"width":235,"height":155,"title":{"text":"F","dx":-44,"dy":14},
  "encoding":{
   "x":{"field":"m","type":"nominal","scale":{"domain":["Firing","Waves"],"paddingInner":0.64,"paddingOuter":0.211},"axis":{"labels":false,"ticks":false,"title":null,"domainColor":"#777777"}},
   "xOffset":{"field":"c","type":"nominal","scale":{"domain":["C57BL/6 PSS","C57BL/6 XesC"],"range":[0,47.5],"paddingInner":0.333,"paddingOuter":0}}
  },
  "layer":[
   {"data":{"name":"barF"},"mark":{"type":"bar","strokeWidth":1},
    "encoding":{
     "y":{"field":"mean","type":"quantitative","scale":{"domain":[0,12],"nice":false},"axis":{"title":"# Firing Cells","values":[0,2,4,6,8,10,12],"titleY":66,"titlePadding":6}},
     "fill":{"field":"c","type":"nominal","scale":{"domain":["C57BL/6 PSS","C57BL/6 XesC"],"range":["#000000","#0d0df2"]},
      "legend":{"orient":"none","legendX":50.25,"legendY":-60,"title":null,"symbolType":"M-2,-0.667H2V0.667H-2Z","symbolSize":272,"symbolStrokeWidth":1,"labelOffset":15.25,"rowPadding":2.5,"encode":{"labels":{"update":{"fill":{"signal":"indexof(datum.value,'PSS')>=0 ? '#333333' : '#1a1aff'"}}}}}},
     "stroke":{"field":"c","type":"nominal","scale":{"domain":["C57BL/6 PSS","C57BL/6 XesC"],"range":["#000000","#0d0df2"]},
      "legend":{"orient":"none","legendX":50.25,"legendY":-60,"title":null,"symbolType":"M-2,-0.667H2V0.667H-2Z","symbolSize":272,"symbolStrokeWidth":1,"labelOffset":15.25,"rowPadding":2.5,"encode":{"labels":{"update":{"fill":{"signal":"indexof(datum.value,'PSS')>=0 ? '#333333' : '#1a1aff'"}}}}}}
    }},
   {"data":{"name":"barF"},"mark":{"type":"rule","strokeWidth":1.2},
    "encoding":{"y":{"field":"mean","type":"quantitative","axis":{"orient":"right","title":"# Waves/Cell/min","values":[0,2,4,6,8,10,12],"titleAngle":270,"titleBaseline":"top","titleY":69,"titlePadding":10}},"y2":{"field":"upper"},
     "color":{"condition":{"test":"indexof(datum.c,'PSS')<0","value":"#2020f0"},"value":"#222222"}}},
   {"data":{"name":"barF"},"mark":{"type":"tick","size":8,"thickness":1.2,"opacity":1},
    "encoding":{"y":{"field":"upper","type":"quantitative","axis":null},"color":{"condition":{"test":"indexof(datum.c,'PSS')<0","value":"#2020f0"},"value":"#222222"}}},
   {"data":{"name":"dotF"},"mark":{"type":"point","filled":true,"fill":"#ffffff","stroke":"#222222","strokeWidth":1,"size":25,"opacity":1},
    "encoding":{"y":{"field":"val","type":"quantitative","axis":null},
     "shape":{"field":"col","type":"nominal","scale":{"domain":["L","C","R"],"range":["M-2,0A1,1,0,1,1,-4,0A1,1,0,1,1,-2,0Z","circle","M4,0A1,1,0,1,1,2,0A1,1,0,1,1,4,0Z"]},"legend":null}}},
   {"data":{"name":"brkF"},"mark":{"type":"line","strokeWidth":1,"color":"#555555"},
    "encoding":{"y":{"field":"y","type":"quantitative","axis":null},"detail":{"field":"id"},"order":{"field":"k"}}},
   {"data":{"name":"starF"},"mark":{"type":"text","fontSize":20,"color":"#444444","baseline":"alphabetic","dy":7,"dx":14.25},
    "encoding":{"y":{"field":"y","type":"quantitative","axis":null},"text":{"field":"stars"}}}
  ],
  "resolve":{"axis":{"y":"independent"}}}
 ],"spacing":107,"bounds":"flush",
 "resolve":{"scale":{"x":"independent","y":"independent","xOffset":"independent","color":"independent","fill":"independent","stroke":"independent","shape":"independent"},"legend":{"color":"independent","fill":"independent","stroke":"independent"}}}
],"spacing":289,"bounds":"flush",
"resolve":{"scale":{"x":"independent","y":"independent","xOffset":"independent","color":"independent","fill":"independent","stroke":"independent","shape":"independent"},"legend":{"color":"independent","fill":"independent","stroke":"independent"}}}
]
}
